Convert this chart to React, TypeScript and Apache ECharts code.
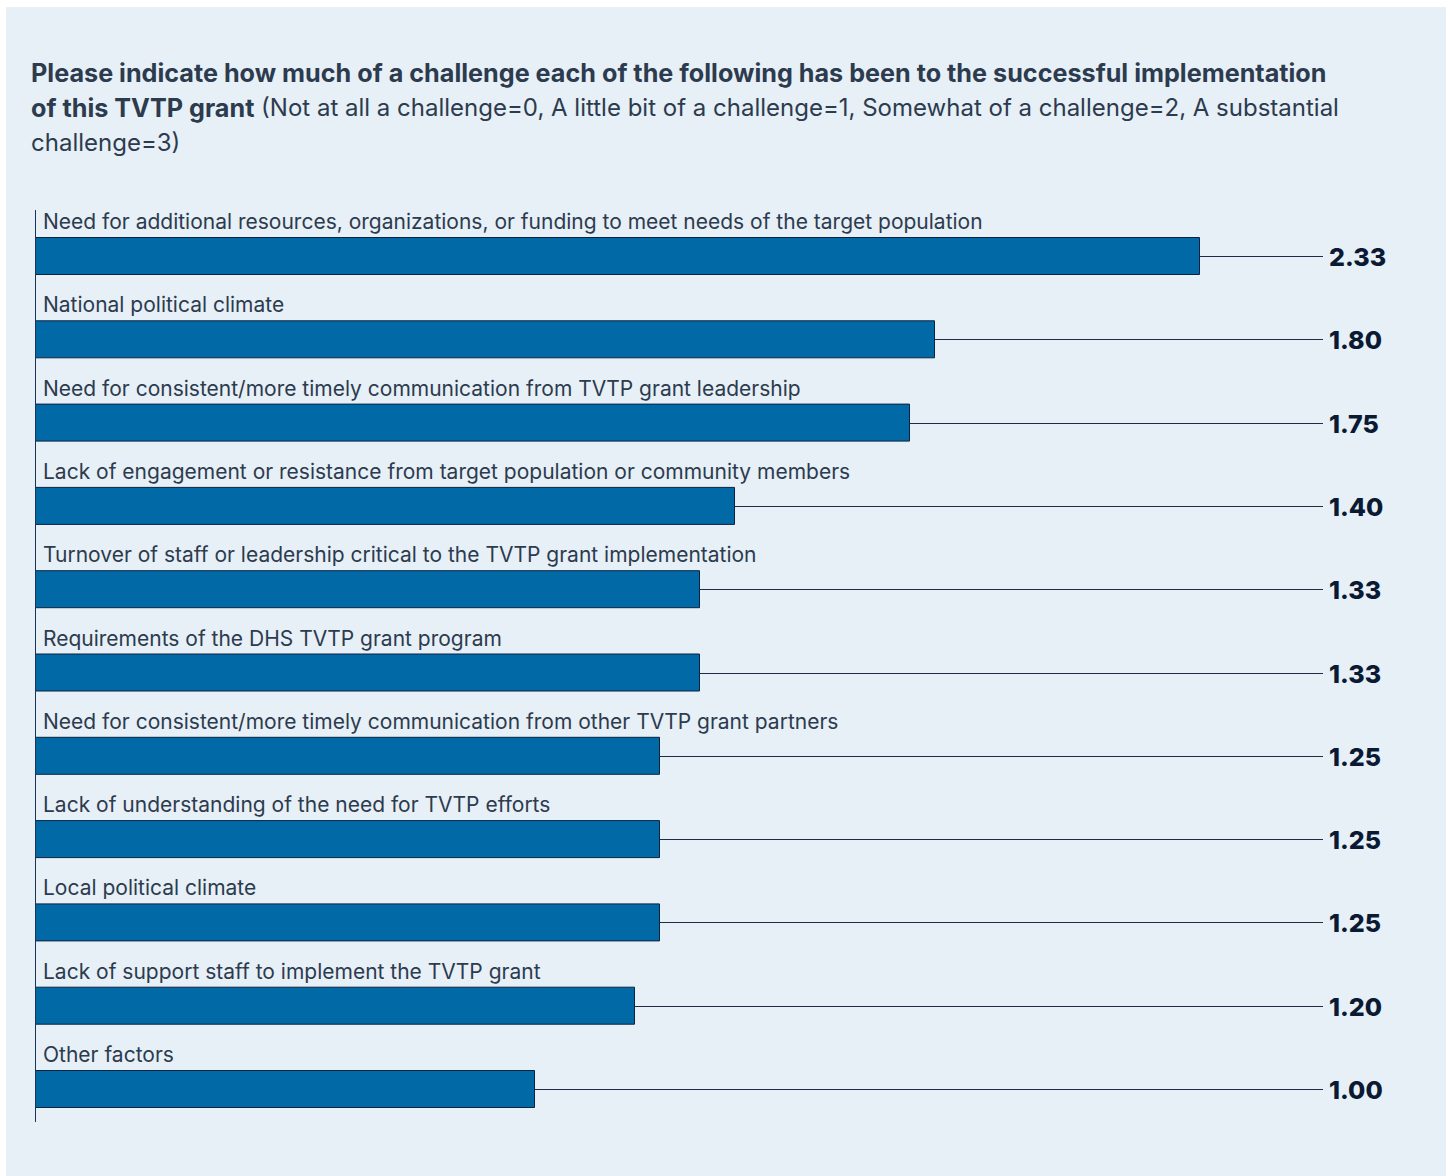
import React, { useEffect, useRef } from "react";
import * as echarts from "echarts";

const categories = [
  "Need for additional resources, organizations, or funding to meet needs of the target population",
  "National political climate",
  "Need for consistent/more timely communication from TVTP grant leadership",
  "Lack of engagement or resistance from target population or community members",
  "Turnover of staff or leadership critical to the TVTP grant implementation",
  "Requirements of the DHS TVTP grant program",
  "Need for consistent/more timely communication from other TVTP grant partners",
  "Lack of understanding of the need for TVTP efforts",
  "Local political climate",
  "Lack of support staff to implement the TVTP grant",
  "Other factors",
];
const values = [2.33, 1.8, 1.75, 1.4, 1.33, 1.33, 1.25, 1.25, 1.25, 1.2, 1.0];

const titleBold1 =
  "Please indicate how much of a challenge each of the following has been to the successful implementation";
const titleBold2 = "of this TVTP grant";
const titleReg2 =
  " (Not at all a challenge=0, A little bit of a challenge=1, Somewhat of a challenge=2, A substantial";
const titleReg3 = "challenge=3)";

const FONT = "Inter, 'Noto Sans', sans-serif";

export default function App() {
  const ref = useRef<HTMLDivElement>(null);
  useEffect(() => {
    if (!ref.current) return;
    const chart = echarts.init(ref.current, null, { renderer: "svg" });
    const lineEndX = 1323;
    chart.setOption({
      animation: false,
      backgroundColor: "#ffffff",
      graphic: [
        {
          type: "rect",
          z: -10,
          silent: true,
          shape: { x: 6, y: 7, width: 1440, height: 1175 },
          style: { fill: "#e7eff7" },
        },
        {
          type: "line",
          z: 5,
          silent: true,
          shape: { x1: 35.5, y1: 210, x2: 35.5, y2: 1122 },
          style: { stroke: "#1d3554", lineWidth: 1 },
        },
      ],
      title: {
        left: 31,
        top: 55,
        padding: 0,
        text:
          "{b|" + titleBold1 + "}\n{b|" + titleBold2 + "}{r|" + titleReg2 + "}\n{r|" + titleReg3 + "}",
        textStyle: {
          fontFamily: FONT,
          lineHeight: 35,
          rich: {
            b: { fontFamily: FONT, fontSize: 25.2, fontWeight: "bold", color: "#2c3b4e", lineHeight: 35 },
            r: { fontFamily: FONT, fontSize: 24, fontWeight: "normal", color: "#2c3b4e", lineHeight: 35 },
          },
        },
      },
      grid: { left: 35, top: 214.35, height: 916.3, width: 1300, containLabel: false },
      xAxis: {
        type: "value",
        min: 0,
        max: 2.6,
        show: false,
      },
      yAxis: {
        type: "category",
        inverse: true,
        data: categories,
        axisLine: { show: false },
        axisTick: { show: false },
        splitLine: { show: false },
        axisLabel: { show: false },
      },
      series: [
        {
          type: "bar",
          data: values,
          barWidth: 38,
          itemStyle: { color: "#0069a6", borderColor: "#0c2340", borderWidth: 1 },
          z: 3,
        },
        {
          type: "custom",
          z: 4,
          data: values.map((v, i) => [v, i]),
          encode: { x: 0, y: 1 },
          renderItem: (params: any, api: any) => {
            const v = api.value(0);
            const idx = api.value(1);
            const p = api.coord([v, idx]);
            const p0 = api.coord([0, idx]);
            const y = Math.round(p[1]) + 0.5;
            return {
              type: "group",
              children: [
                {
                  type: "line",
                  shape: { x1: p[0], y1: y, x2: lineEndX, y2: y },
                  style: { stroke: "#1e2d45", lineWidth: 1 },
                },
                {
                  type: "text",
                  x: 1329,
                  y: p[1] + 1,
                  style: {
                    text: v.toFixed(2),
                    fontFamily: FONT,
                    fontSize: 25,
                    fontWeight: 800,
                    fill: "#0b1a33",
                    align: "left",
                    verticalAlign: "middle",
                  },
                },
                {
                  type: "text",
                  x: p0[0] + 8,
                  y: p[1] - 34.5,
                  style: {
                    text: categories[idx],
                    fontFamily: FONT,
                    fontSize: 21,
                    fill: "#2c3b4e",
                    align: "left",
                    verticalAlign: "middle",
                  },
                },
              ],
            };
          },
        },
      ],
    });
    return () => chart.dispose();
  }, []);
  return (
    <div
      ref={ref}
      style={{ position: "absolute", left: 0, top: 0, width: 1451, height: 1176 }}
    />
  );
}
